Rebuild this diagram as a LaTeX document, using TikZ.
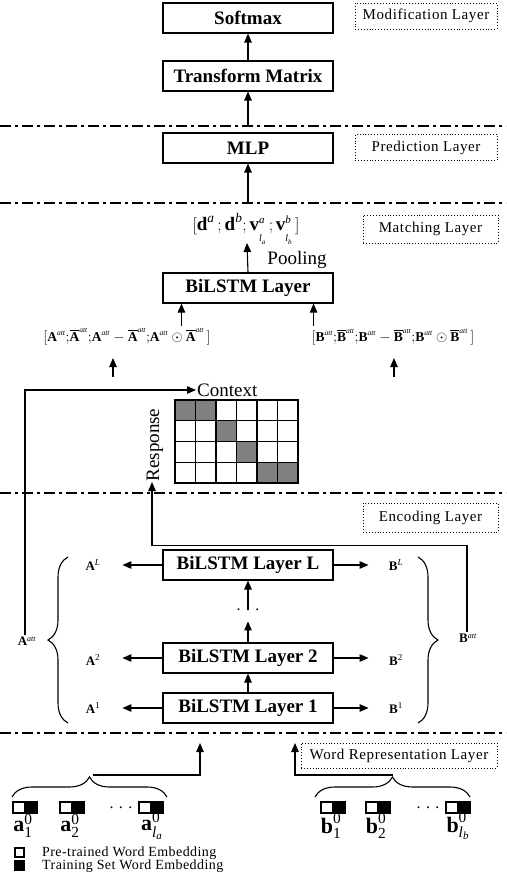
\documentclass[tikz,border=0pt]{standalone}
\usepackage{amsmath}
\usepackage{fontspec}
\setmainfont{Liberation Serif}
\newfontfamily\spfont[LetterSpace=4]{Liberation Serif}
\newfontfamily\lgfont[LetterSpace=3]{Liberation Serif}
\usetikzlibrary{arrows.meta,decorations.pathreplacing,calc}
\tikzset{
  mainbox/.style={draw, line width=1.1pt, minimum width=170pt, minimum height=30pt, inner sep=0pt, font=\fontsize{19}{21}\selectfont\bfseries},
  laybox/.style={draw, dotted, line width=0.9pt, inner sep=0pt, font=\spfont\fontsize{15}{17}\selectfont},
  arr/.style={-{Triangle[length=9pt,width=7.5pt]}, line width=1.1pt},
  sepline/.style={line width=1.1pt, dash pattern=on 11pt off 4pt on 3pt off 4pt},
  vlab/.style={font=\fontsize{13}{15}\selectfont, inner sep=1pt},
  bigtxt/.style={font=\fontsize{19}{21}\selectfont, inner sep=2pt},
  brc/.style={decorate, line width=1.1pt, decoration={brace, amplitude=20pt}},
  embw/.style={draw, line width=1.1pt, fill=white},
  embb/.style={draw, line width=1.1pt, fill=black},
  wlab/.style={font=\fontsize{22}{24}\selectfont, inner sep=0pt},
}
\newcommand{\sat}{^{\mbox{\fontsize{7.5}{8}\selectfont\textit{att}}}}
\newcommand{\latt}{^{\mbox{\fontsize{8}{9}\selectfont\textit{att}}}}
\newcommand{\vsc}[2]{\textbf{v}%
  ^{\raisebox{1pt}{\mbox{\fontsize{11}{11}\selectfont\textit{#1}}}}%
  _{\raisebox{-7pt}{\mbox{\fontsize{10}{10}\selectfont\textit{l}\raisebox{-2.5pt}{\fontsize{7}{7}\selectfont\textit{#2}}}}}}
\begin{document}
\begin{tikzpicture}[x=1pt,y=-1pt]
\useasboundingbox (0,0) rectangle (506,882);

% separators
\foreach \yy in {126,203,493,733}{
  \draw[sepline] (0,\yy) -- (506,\yy);
}

% layer labels
\node[laybox, minimum width=142pt, minimum height=26pt] (modl) at (426,16) {Modification Layer};
\node[laybox, minimum width=142pt, minimum height=26pt] (predl) at (426,147.5) {Prediction Layer};
\node[laybox, minimum width=135pt, minimum height=28pt] (matl) at (430.5,229) {Matching Layer};
\node[laybox, minimum width=135pt, minimum height=29pt] (encl) at (430.5,517.5) {Encoding Layer};
\node[laybox, minimum width=196pt, minimum height=25pt] (wrl) at (399,755.5) {Word Representation Layer};

% main boxes
\node[mainbox] (sm) at (248,18) {Softmax};
\node[mainbox] (tm) at (248,76) {Transform Matrix};
\node[mainbox] (mlp) at (248,148) {MLP};
\node[mainbox] (bil) at (248,288) {BiLSTM Layer};
\node[mainbox] (lL) at (248,565) {BiLSTM Layer L};
\node[mainbox] (l2) at (248,658) {BiLSTM Layer 2};
\node[mainbox] (l1) at (248,708) {BiLSTM Layer 1};

\coordinate (c1) at (248,126);
\coordinate (c2) at (248,203);
\draw[arr] (tm.north) -- (sm.south);
\draw[arr] (c1) -- (tm.south);
\draw[arr] (c2) -- (mlp.south);

% matching layer
\node[font=\fontsize{19}{21}\selectfont, inner sep=1pt] (dvec) at (246,229)
  {$[\textbf{d}^{\textit{a}}\,;\textbf{d}^{\textit{b}};\vsc{a}{a}\,;\vsc{b}{b}\,]$};
\coordinate (dvb) at (247,243);
\draw[arr] (bil.north) -- (dvb);
\node[bigtxt] (pool) at (297,260) {Pooling};

\node[font=\fontsize{13.5}{15}\selectfont, inner sep=1pt] (afor) at (127,337)
  {$[\textbf{A}\sat{;}\overline{\textbf{A}}\sat{;}\textbf{A}\sat-\overline{\textbf{A}}\sat{;}\textbf{A}\sat\odot\overline{\textbf{A}}\sat\,]$};
\node[font=\fontsize{13.5}{15}\selectfont, inner sep=1pt] (bfor) at (393,337)
  {$[\textbf{B}\sat{;}\overline{\textbf{B}}\sat{;}\textbf{B}\sat-\overline{\textbf{B}}\sat{;}\textbf{B}\sat\odot\overline{\textbf{B}}\sat\,]$};
\draw[arr] ([xshift=19pt,yshift=-22pt]bil.south west) -- ([xshift=19pt]bil.south west);
\draw[arr] ([xshift=-20pt,yshift=-22pt]bil.south east) -- ([xshift=-20pt]bil.south east);
\coordinate (fa1) at (113,377);
\coordinate (fa1t) at (113,358);
\coordinate (fa2) at (394,377);
\coordinate (fa2t) at (394,358);
\draw[arr] (fa1) -- (fa1t);
\draw[arr] (fa2) -- (fa2t);

% interaction grid
\foreach \r/\c in {0/0,0/1,1/2,2/3,3/4,3/5}{
  \fill[gray] ({175+\c*20.5},{400+\r*20.75}) rectangle ++(20.5,20.75);
}
\foreach \i in {1,...,5}{
  \draw[line width=1.1pt] ({175+\i*20.5},400) -- ++(0,83);
}
\foreach \j in {1,2,3}{
  \draw[line width=1.1pt] (175,{400+\j*20.75}) -- ++(123,0);
}
\draw[line width=1.1pt] (175,400) rectangle (298,483);
\node[bigtxt, anchor=west, inner sep=1pt] (ctx) at (196,390) {Context};
\node[bigtxt, rotate=90, inner sep=0pt] (resp) at (155,445) {Response};
\coordinate (rtip) at (152,482);

% encoding layer
\node[vlab] (aL) at (93,565) {\textbf{A}$^{\textit{L}}$};
\node[vlab] (a2) at (93,660) {\textbf{A}$^{\text{2}}$};
\node[vlab] (a1) at (93,708) {\textbf{A}$^{\text{1}}$};
\node[vlab] (bL) at (396,565) {\textbf{B}$^{\textit{L}}$};
\node[vlab] (b2) at (396,660) {\textbf{B}$^{\text{2}}$};
\node[vlab] (b1) at (396,708) {\textbf{B}$^{\text{1}}$};
\foreach \n in {L,2,1}{
  \draw[arr] (l\n.west) -- ++(-40,0);
  \draw[arr] (l\n.east) -- ++(35,0);
}
\node[font=\fontsize{16}{18}\selectfont, inner sep=1pt] (dots) at (248,610) {.\,\,.\,\,.};
\draw[arr] (l1.north) -- (l2.south);
\draw[arr] (l2.north) -- ++(0,-21);
\draw[arr] ([yshift=-2pt]dots.north) -- (lL.south);

\draw[brc] (68,723) -- (68,557);
\draw[brc] (418,557) -- (418,723);
\node[vlab] (aatt) at (27,641) {\textbf{A}$\latt$};
\node[vlab] (batt) at (468,638) {\textbf{B}$\latt$};
\draw[arr] ([xshift=-2pt]aatt.north) |- (ctx.west);
\draw[arr] ([xshift=-1pt]batt.north) -- ++(0,-87) -| (rtip);

% word representation
\foreach \xx in {13,60,139,321,366,446}{
  \draw[embw] (\xx,802) rectangle ++(12,11);
  \draw[embb] (\xx+12,802) rectangle ++(12,11);
}
\node[font=\fontsize{16}{18}\selectfont, inner sep=0pt] (dl) at (121,808) {.\,\,.\,\,.};
\node[font=\fontsize{16}{18}\selectfont, inner sep=0pt] (dr) at (428,808) {.\,\,.\,\,.};
\node[wlab] (wa1) at (23,826) {$\textbf{a}^{\text{0}}_{\text{1}}$};
\node[wlab] (wa2) at (70,826) {$\textbf{a}^{\text{0}}_{\text{2}}$};
\node[wlab] (wa3) at (152,826) {$\textbf{a}^{\text{0}}_{\textit{l}_{\textit{a}}}$};
\node[wlab] (wb1) at (331,826) {$\textbf{b}^{\text{0}}_{\text{1}}$};
\node[wlab] (wb2) at (376,826) {$\textbf{b}^{\text{0}}_{\text{2}}$};
\node[wlab] (wb3) at (458,826) {$\textbf{b}^{\text{0}}_{\textit{l}_{\textit{b}}}$};

\draw[brc] (12,797) -- (167,797);
\draw[brc] (315,797) -- (470,797);
\coordinate (lbt) at (93,775);
\coordinate (lbe) at (200,743);
\coordinate (rbt) at (393,775);
\coordinate (rbe) at (295,743);
\draw[arr] (lbt) -| (lbe);
\draw[arr] (rbt) -| (rbe);

% legend
\draw[embw] (15,848) rectangle ++(9,9);
\draw[embb] (15,861) rectangle ++(9,9);
\node[anchor=west, font=\lgfont\fontsize{14}{15}\selectfont, inner sep=0pt] (lg1) at (42,853) {Pre-trained Word Embedding};
\node[anchor=west, font=\lgfont\fontsize{14}{15}\selectfont, inner sep=0pt] (lg2) at (42,866) {Training Set Word Embedding};
\end{tikzpicture}
\end{document}
